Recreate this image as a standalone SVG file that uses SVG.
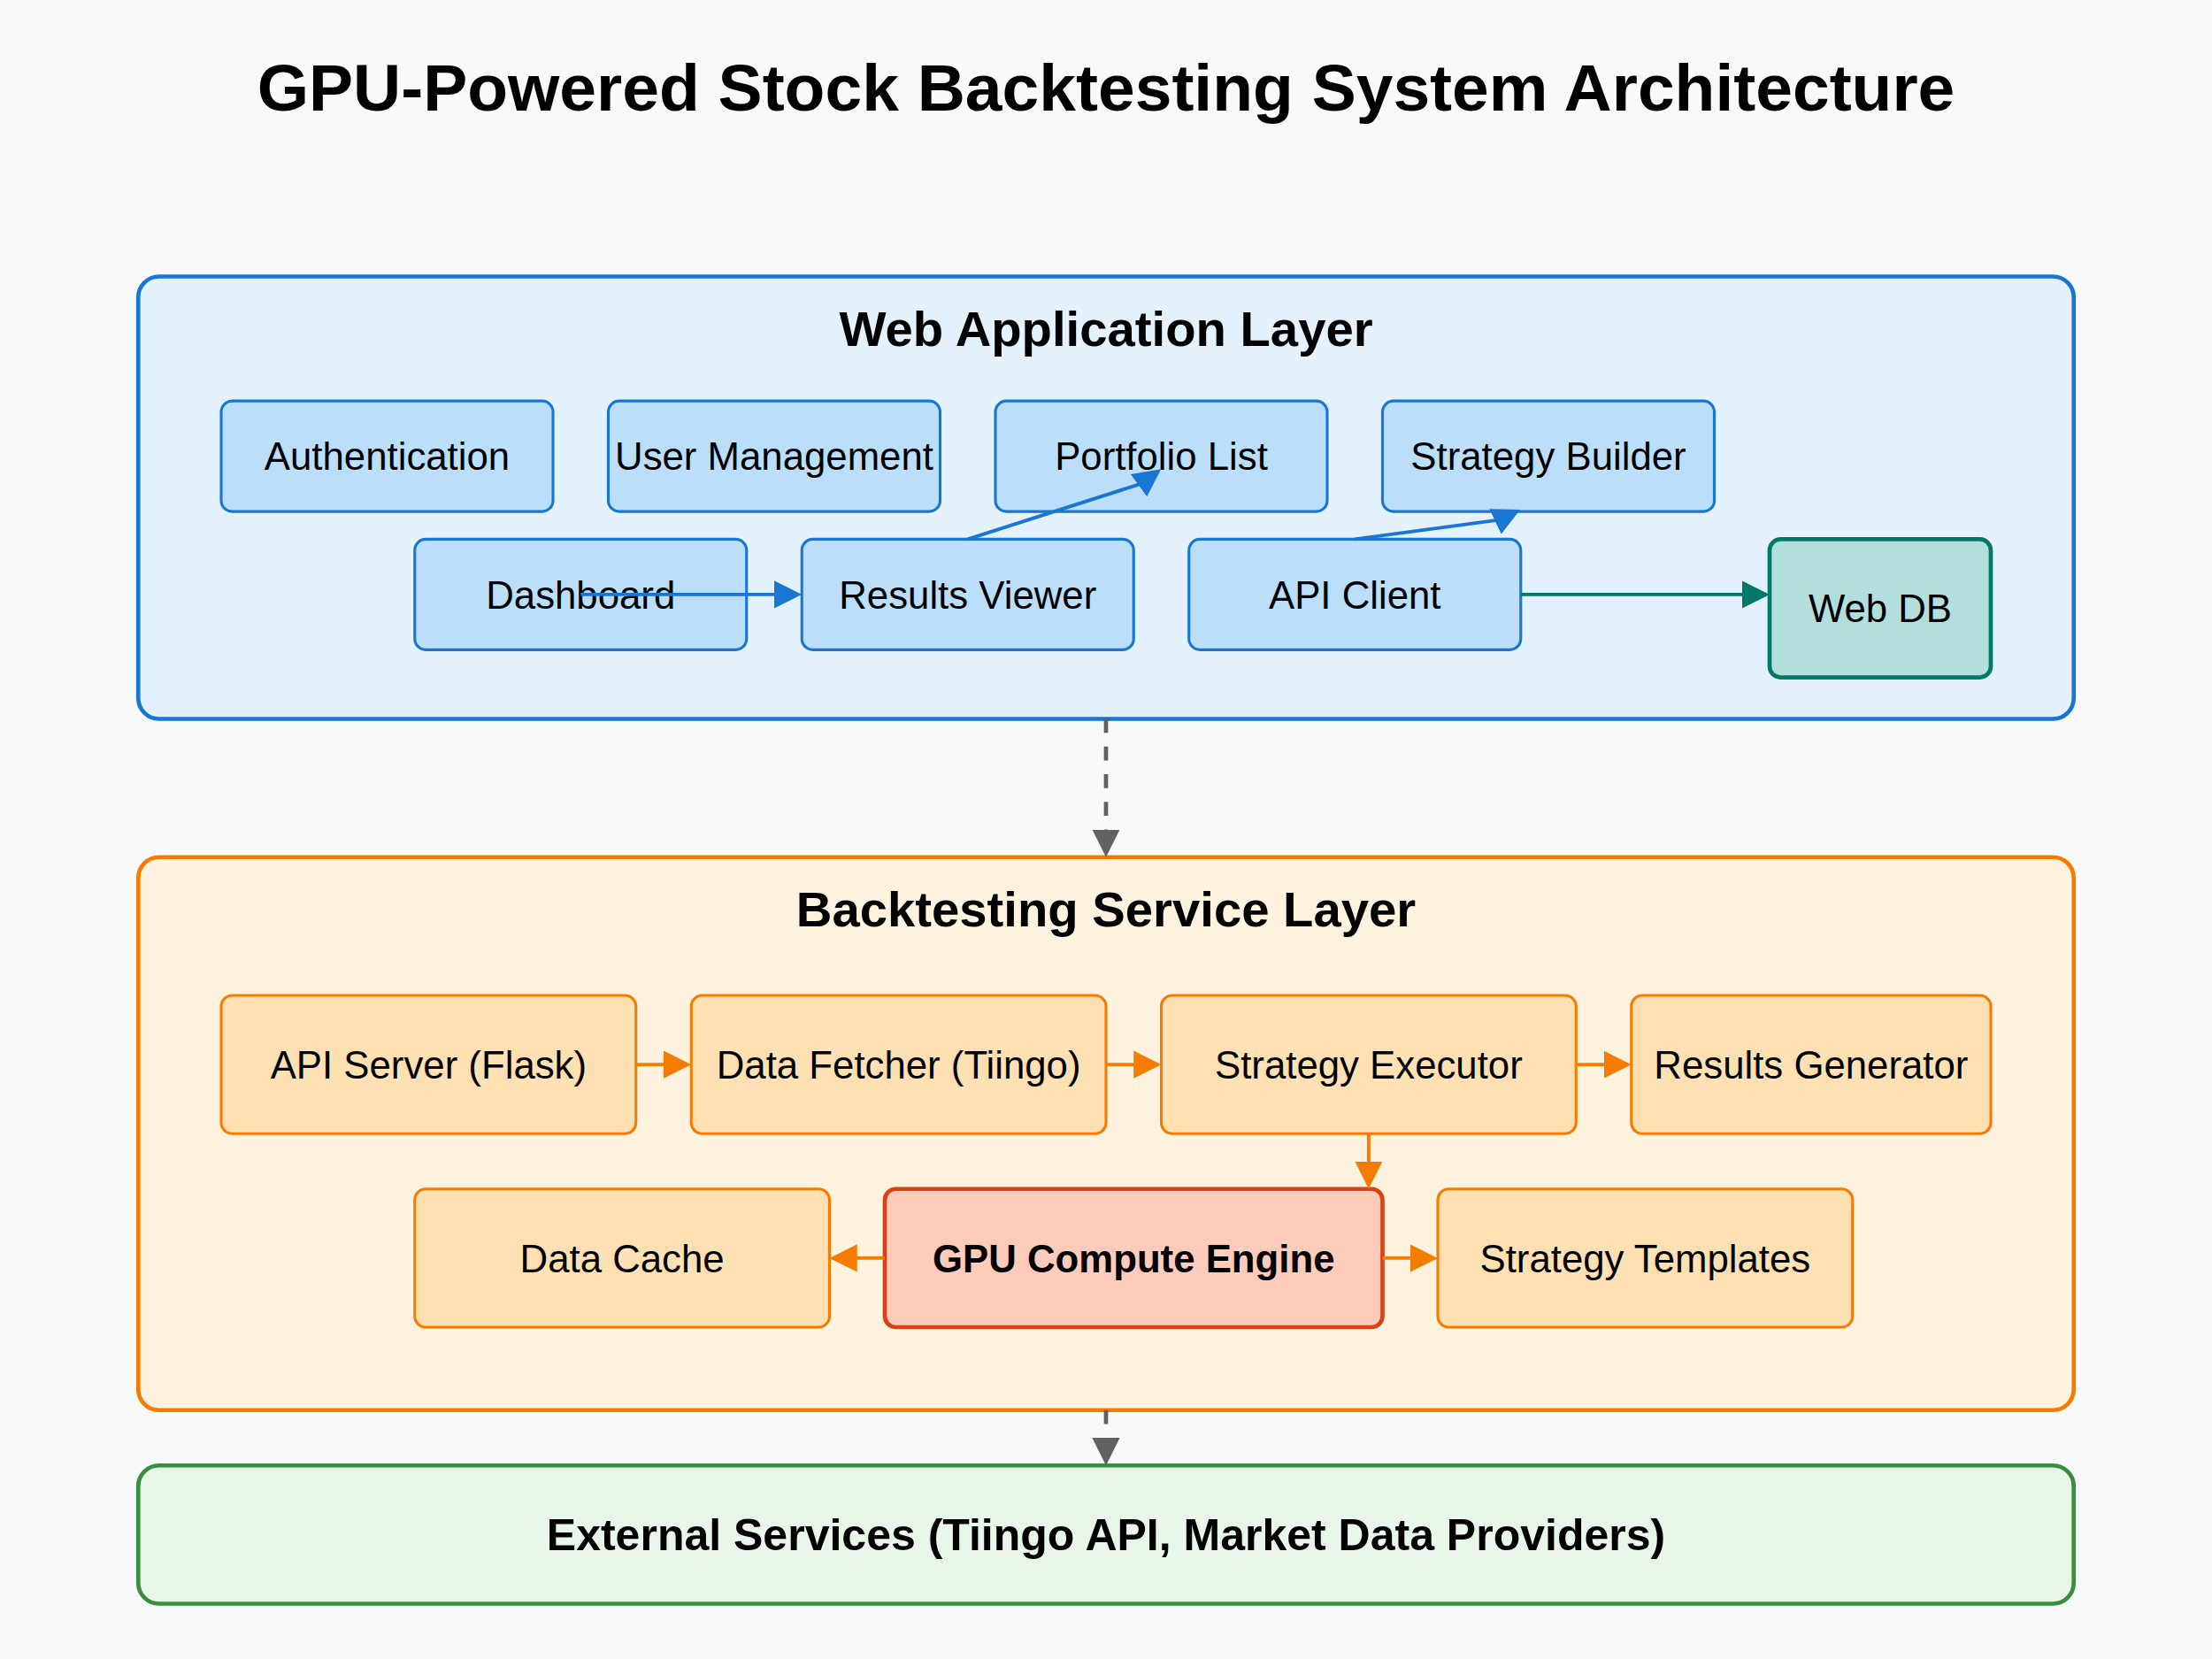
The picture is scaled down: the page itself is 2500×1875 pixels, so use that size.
<svg xmlns="http://www.w3.org/2000/svg" width="2500" height="1875" viewBox="0 0 2500 1875">
<defs>
<style>
text{font-family:"Liberation Sans",Arial,Helvetica,sans-serif;fill:#000;text-anchor:middle}
.title{font-size:48px;font-weight:bold}
.ltitle{font-size:36px;font-weight:bold}
.lbl{font-size:28px}
.bold{font-weight:bold}
.web{fill:#bbdefb;stroke:#1976d2;stroke-width:2}
.svc{fill:#ffe0b2;stroke:#f57c00;stroke-width:2}
.c-blue{stroke:#1976d2;stroke-width:2.5;fill:none}
.c-teal{stroke:#00796b;stroke-width:2.5;fill:none}
.c-org{stroke:#f57c00;stroke-width:2.5;fill:none}
.c-gray{stroke:#616161;stroke-width:3;fill:none;stroke-dasharray:10,10}
</style>
<marker id="mBlue" markerUnits="userSpaceOnUse" markerWidth="20" markerHeight="20" viewBox="0 0 20 20" refX="15" refY="10" orient="auto"><path d="M0,0 L20,10 L0,20 z" fill="#1976d2"/></marker>
<marker id="mTeal" markerUnits="userSpaceOnUse" markerWidth="20" markerHeight="20" viewBox="0 0 20 20" refX="15" refY="10" orient="auto"><path d="M0,0 L20,10 L0,20 z" fill="#00796b"/></marker>
<marker id="mOrg" markerUnits="userSpaceOnUse" markerWidth="20" markerHeight="20" viewBox="0 0 20 20" refX="15" refY="10" orient="auto"><path d="M0,0 L20,10 L0,20 z" fill="#f57c00"/></marker>
<marker id="mGray" markerUnits="userSpaceOnUse" markerWidth="20" markerHeight="20" viewBox="0 0 20 20" refX="15" refY="10" orient="auto"><path d="M0,0 L20,10 L0,20 z" fill="#616161"/></marker>
</defs>
<rect x="0" y="0" width="2500" height="1875" fill="#f8f9fa"/>
<g transform="scale(1.5625)">
<text class="title" x="800" y="80">GPU-Powered Stock Backtesting System Architecture</text>

<g id="web-layer">
<rect x="100" y="200" width="1400" height="320" rx="15" fill="#e3f2fd" stroke="#1976d2" stroke-width="3"/>
<text class="ltitle" x="800" y="250">Web Application Layer</text>
</g>
<g id="authentication"><rect class="web" x="160" y="290" width="240" height="80" rx="8"/><text class="lbl" x="280" y="340">Authentication</text></g>
<g id="user-management"><rect class="web" x="440" y="290" width="240" height="80" rx="8"/><text class="lbl" x="560" y="340">User Management</text></g>
<g id="portfolio-list"><rect class="web" x="720" y="290" width="240" height="80" rx="8"/><text class="lbl" x="840" y="340">Portfolio List</text></g>
<g id="strategy-builder"><rect class="web" x="1000" y="290" width="240" height="80" rx="8"/><text class="lbl" x="1120" y="340">Strategy Builder</text></g>
<g id="dashboard"><rect class="web" x="300" y="390" width="240" height="80" rx="8"/><text class="lbl" x="420" y="440">Dashboard</text></g>
<g id="results-viewer"><rect class="web" x="580" y="390" width="240" height="80" rx="8"/><text class="lbl" x="700" y="440">Results Viewer</text></g>
<g id="api-client"><rect class="web" x="860" y="390" width="240" height="80" rx="8"/><text class="lbl" x="980" y="440">API Client</text></g>
<g id="web-db"><rect x="1280" y="390" width="160" height="100" rx="8" fill="#b2dfdb" stroke="#00796b" stroke-width="3"/><text class="lbl" x="1360" y="450">Web DB</text></g>

<g id="service-layer">
<rect x="100" y="620" width="1400" height="400" rx="15" fill="#fff3e0" stroke="#f57c00" stroke-width="3"/>
<text class="ltitle" x="800" y="670">Backtesting Service Layer</text>
</g>
<g id="api-server"><rect class="svc" x="160" y="720" width="300" height="100" rx="8"/><text class="lbl" x="310" y="780">API Server (Flask)</text></g>
<g id="data-fetcher"><rect class="svc" x="500" y="720" width="300" height="100" rx="8"/><text class="lbl" x="650" y="780">Data Fetcher (Tiingo)</text></g>
<g id="strategy-executor"><rect class="svc" x="840" y="720" width="300" height="100" rx="8"/><text class="lbl" x="990" y="780">Strategy Executor</text></g>
<g id="results-generator"><rect class="svc" x="1180" y="720" width="260" height="100" rx="8"/><text class="lbl" x="1310" y="780">Results Generator</text></g>
<g id="data-cache"><rect class="svc" x="300" y="860" width="300" height="100" rx="8"/><text class="lbl" x="450" y="920">Data Cache</text></g>
<g id="gpu-engine"><rect x="640" y="860" width="360" height="100" rx="8" fill="#ffccbc" stroke="#d84315" stroke-width="3"/><text class="lbl bold" x="820" y="920">GPU Compute Engine</text></g>
<g id="strategy-templates"><rect class="svc" x="1040" y="860" width="300" height="100" rx="8"/><text class="lbl" x="1190" y="920">Strategy Templates</text></g>

<g id="external-services">
<rect x="100" y="1060" width="1400" height="100" rx="15" fill="#e8f5e9" stroke="#388e3c" stroke-width="3"/>
<text class="bold" x="800" y="1121" font-size="32">External Services (Tiingo API, Market Data Providers)</text>
</g>

<g id="connectors">
<line class="c-blue" x1="420" y1="430" x2="575" y2="430" marker-end="url(#mBlue)"/>
<polyline class="c-blue" points="700,390 825.4,349.9 835.8,342.3" marker-end="url(#mBlue)"/>
<polyline class="c-blue" points="980,390 1084,376.1 1095.1,370.8" marker-end="url(#mBlue)"/>
<line class="c-teal" x1="1100" y1="430" x2="1275" y2="430" marker-end="url(#mTeal)"/>
<line class="c-gray" x1="800" y1="520" x2="800" y2="615" marker-end="url(#mGray)"/>
<line class="c-org" x1="460" y1="770" x2="495" y2="770" marker-end="url(#mOrg)"/>
<line class="c-org" x1="800" y1="770" x2="835" y2="770" marker-end="url(#mOrg)"/>
<line class="c-org" x1="1140" y1="770" x2="1175" y2="770" marker-end="url(#mOrg)"/>
<line class="c-org" x1="990" y1="820" x2="990" y2="855" marker-end="url(#mOrg)"/>
<line class="c-org" x1="640" y1="910" x2="605" y2="910" marker-end="url(#mOrg)"/>
<line class="c-org" x1="1000" y1="910" x2="1035" y2="910" marker-end="url(#mOrg)"/>
<line class="c-gray" x1="800" y1="1020" x2="800" y2="1055" marker-end="url(#mGray)"/>
</g>
</g>
</svg>
